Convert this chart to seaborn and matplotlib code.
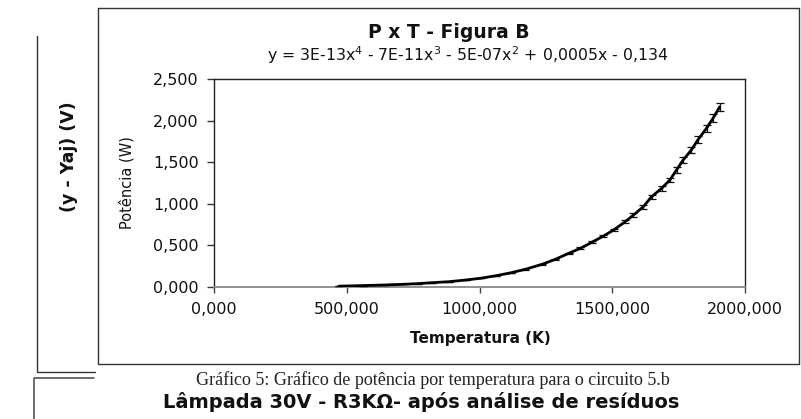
import matplotlib
matplotlib.use("Agg")
import matplotlib.pyplot as plt
from matplotlib.ticker import FuncFormatter
from matplotlib.lines import Line2D
import seaborn as sns
import pandas as pd

# ---- data ----
temperature = [470, 560, 640, 710, 770, 822, 886, 948, 1004, 1061, 1117, 1173,
               1236, 1286, 1336, 1380, 1423, 1467, 1505, 1549, 1580, 1617, 1648,
               1686, 1717, 1742, 1767, 1798, 1824, 1855, 1880, 1905]
power = [0.010, 0.017, 0.024, 0.032, 0.041, 0.052, 0.064, 0.084, 0.105, 0.135,
         0.170, 0.213, 0.273, 0.333, 0.405, 0.465, 0.537, 0.613, 0.685, 0.785,
         0.865, 0.965, 1.085, 1.186, 1.286, 1.406, 1.526, 1.647, 1.775, 1.907,
         2.030, 2.167]
power_err = [0.0002, 0.0004, 0.0006, 0.0007, 0.0009, 0.0012, 0.0015, 0.0019,
             0.0024, 0.0031, 0.0039, 0.0049, 0.0063, 0.0077, 0.0093, 0.0107,
             0.0124, 0.0141, 0.0158, 0.0181, 0.0199, 0.0222, 0.0250, 0.0273,
             0.0296, 0.0323, 0.0351, 0.0379, 0.0408, 0.0439, 0.0467, 0.0498]
x_ticks = [0, 500, 1000, 1500, 2000]
y_ticks = [0.0, 0.5, 1.0, 1.5, 2.0, 2.5]

title = "P x T - Figura B"
equation = r"y = 3E-13x$^{4}$ - 7E-11x$^{3}$ - 5E-07x$^{2}$ + 0,0005x - 0,134"
xlabel = "Temperatura (K)"
ylabel = "Potência (W)"
side_label = "(y - Yaj) (V)"
caption = "Gráfico 5: Gráfico de potência por temperatura para o circuito 5.b"
next_title = "Lâmpada 30V - R3KΩ- após análise de resíduos"

df = pd.DataFrame({"T": temperature, "P": power, "err": power_err})

sns.set_style("white")
plt.rcParams["font.family"] = ["DejaVu Sans"]

W, H = 801, 419
fig = plt.figure(figsize=(W / 100, H / 100), dpi=100)
fig.patch.set_facecolor("white")


def fx(px):
    return px / W


def fy(py):
    return 1 - py / H


# outer chart frame
fig.add_artist(Line2D([fx(98), fx(799), fx(799), fx(98), fx(98)],
                      [fy(8), fy(8), fy(364), fy(364), fy(8)],
                      color="#333333", lw=1.0, transform=fig.transFigure))
# partial neighbouring frames on the left
fig.add_artist(Line2D([fx(37), fx(37), fx(95)], [fy(36), fy(371.5), fy(371.5)],
                      color="#333333", lw=1.0, transform=fig.transFigure))
fig.add_artist(Line2D([fx(34), fx(34), fx(94)], [fy(419), fy(378), fy(378)],
                      color="#555555", lw=1.2, transform=fig.transFigure))

ax = fig.add_axes([fx(214), fy(287), fx(745) - fx(214), fy(79) - fy(287)])
ax.set_facecolor("white")

ax.errorbar(df["T"], df["P"], yerr=df["err"], fmt="none", ecolor="#111111",
            elinewidth=0.9, capsize=3.2, capthick=0.9, zorder=3)
sns.lineplot(data=df, x="T", y="P", ax=ax, color="black", lw=2.0, zorder=4)

ax.set_xlim(0, 2000)
ax.set_ylim(0, 2.5)
ax.set_xticks(x_ticks)
ax.set_yticks(y_ticks)
fmt = FuncFormatter(lambda v, p: f"{v:.3f}".replace(".", ","))
ax.xaxis.set_major_formatter(fmt)
ax.yaxis.set_major_formatter(fmt)
ax.set_xlabel("")
ax.set_ylabel("")
ax.tick_params(axis="x", direction="out", length=4, width=1, color="#444444",
               labelsize=11.5, pad=7, labelcolor="#111111", bottom=True)
ax.tick_params(axis="y", direction="out", length=5, width=1, color="#333333",
               labelsize=11.5, pad=6, labelcolor="#111111", left=True)
for side in ["top", "right", "left"]:
    ax.spines[side].set_color("#222222")
    ax.spines[side].set_linewidth(1.0)
    ax.spines[side].set_visible(True)
ax.spines["bottom"].set_color("#888888")
ax.spines["bottom"].set_linewidth(1.3)
ax.grid(False)

# texts
fig.text(fx(449), fy(33), title, ha="center", va="center",
         fontsize=13.5, fontweight="bold", color="#111111")
fig.text(fx(468), fy(55), equation, ha="center", va="center",
         fontsize=11.3, color="#111111")
fig.text(fx(480), fy(338), xlabel, ha="center", va="center",
         fontsize=11, fontweight="bold", color="#111111")
fig.text(fx(127), fy(183), ylabel, ha="center", va="center", rotation=90,
         fontsize=10.5, color="#111111")
fig.text(fx(69), fy(157), side_label, ha="center", va="center", rotation=90,
         fontsize=12.5, fontweight="bold", color="#111111")
fig.text(fx(433), fy(380), caption, ha="center", va="center",
         fontsize=13, family=["Liberation Serif", "DejaVu Serif"], color="#222222")
fig.text(fx(421), fy(402), next_title, ha="center", va="center",
         fontsize=14, fontweight="bold", color="#111111")

fig.savefig("out.png", dpi=100, facecolor="white")
